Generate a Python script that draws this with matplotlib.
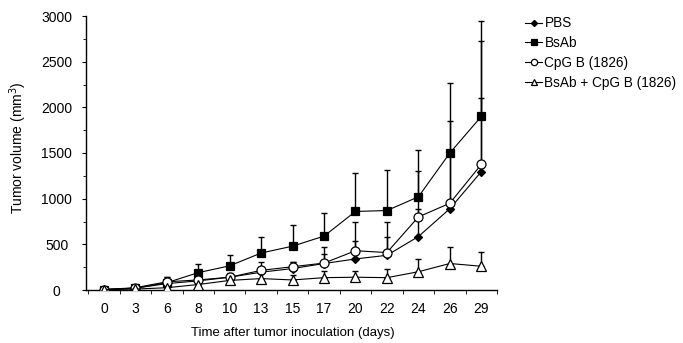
import numpy as np
import matplotlib
matplotlib.use("Agg")
import matplotlib.pyplot as plt
from matplotlib.ticker import MultipleLocator, FixedLocator

plt.rcParams['font.family'] = ['Liberation Sans', 'DejaVu Sans']

# Data
days = ['0', '3', '6', '8', '10', '13', '15', '17', '20', '22', '24', '26', '29']

pbs = [5, 20, 70, 100, 140, 195, 235, 290, 340, 380, 585, 890, 1295]
pbs_err = [0, 5, 20, 30, 40, 60, 70, 100, 200, 200, 300, 600, 805]

bsab = [5, 20, 80, 190, 265, 405, 480, 590, 860, 870, 1020, 1500, 1900]
bsab_err = [0, 10, 65, 90, 118, 172, 232, 257, 425, 444, 513, 770, 1045]

cpg = [5, 25, 90, 110, 140, 215, 255, 295, 430, 410, 800, 950, 1375]
cpg_err = [0, 10, 56, 40, 50, 95, 55, 172, 318, 338, 500, 900, 1355]

combo = [5, 10, 25, 60, 105, 125, 110, 135, 140, 135, 200, 290, 260]
combo_err = [0, 0, 10, 20, 40, 75, 50, 70, 70, 95, 136, 184, 160]

labels = ['PBS', 'BsAb', 'CpG B (1826)', 'BsAb + CpG B (1826)']
series = [pbs, bsab, cpg, combo]
errors = [pbs_err, bsab_err, cpg_err, combo_err]
styles = [
    dict(marker='D', markersize=4.5, markerfacecolor='black'),
    dict(marker='s', markersize=6, markerfacecolor='black'),
    dict(marker='o', markersize=6.5, markerfacecolor='white'),
    dict(marker='^', markersize=6.5, markerfacecolor='white'),
]

fig = plt.figure(figsize=(6.83, 3.43), dpi=100)
ax = fig.add_axes([86 / 683, 1 - 290 / 343, (497 - 86) / 683, (290 - 16) / 343])

x = np.arange(len(days))
handles = []
for vals, err, st, lab in zip(series, errors, styles, labels):
    vals = np.array(vals, dtype=float)
    err = np.array(err, dtype=float)
    ax.errorbar(x, vals, yerr=[np.zeros_like(err), err], fmt='none',
                ecolor='black', elinewidth=1.0, capsize=2.5, capthick=1.0, zorder=2)
    h, = ax.plot(x, vals, color='black', linewidth=0.8, markeredgecolor='black',
                 markeredgewidth=0.9, label=lab, zorder=3, **st)
    handles.append(h)

ax.set_xlim(-0.57, 12.5)
ax.set_ylim(0, 3000)
ax.spines['top'].set_visible(False)
ax.spines['right'].set_visible(False)
ax.spines['left'].set_linewidth(1.0)
ax.spines['bottom'].set_linewidth(1.0)

ax.set_xticks(x)
ax.set_xticklabels(days)
ax.xaxis.set_minor_locator(FixedLocator(np.arange(-0.5, 12.6, 1.0)))
ax.tick_params(axis='x', which='major', length=0, pad=8.5, labelsize=10)
ax.tick_params(axis='x', which='minor', length=3, direction='out')

ax.yaxis.set_major_locator(MultipleLocator(500))
ax.yaxis.set_minor_locator(MultipleLocator(250))
ax.tick_params(axis='y', which='major', length=3, direction='out', pad=18, labelsize=10)
ax.tick_params(axis='y', which='minor', length=2, direction='out')
for t in ax.get_yticklabels():
    t.set_horizontalalignment('center')

ax.set_ylabel('Tumor volume (mm$^3$)', fontsize=10)
ax.yaxis.set_label_coords((29 - 86) / 411, 0.52)
ax.set_xlabel('Time after tumor inoculation (days)', fontsize=9.5)
ax.xaxis.set_label_coords((293 - 86) / 411, (290 - 327) / 274)

fig.legend(handles=handles, labels=labels, loc='upper left',
           bbox_to_anchor=(520 / 683, 1 - 11 / 343), frameon=False,
           fontsize=9.8, handlelength=1.2, handletextpad=0.2,
           labelspacing=0.42, borderaxespad=0, markerscale=0.7)

fig.savefig('out.png', dpi=100)
